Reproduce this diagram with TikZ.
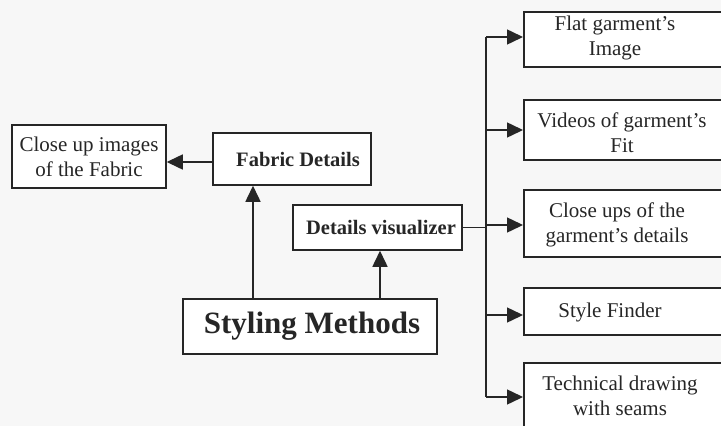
\documentclass[tikz,border=0pt]{standalone}
\usepackage{fontspec}
\setmainfont{Liberation Serif}
\usetikzlibrary{arrows.meta}
\tikzset{
  box/.style={draw=black!85, line width=1.5pt, fill=white, inner sep=0pt},
  lbl/.style={align=center, font=\fontsize{21}{25}\selectfont, text=black!85},
  blbl/.style={align=center, font=\bfseries\fontsize{20.5}{24}\selectfont, text=black!85},
  arr/.style={-{Triangle[length=16pt,width=15pt]}, line width=1.5pt, draw=black!85},
  ln/.style={line width=1.5pt, draw=black!85},
}
\begin{document}
\begin{tikzpicture}[x=1pt,y=-1pt]
\useasboundingbox (0,0) rectangle (721,426);
\fill[black!3] (0,0) rectangle (721,426);
\clip (0,0) rectangle (721,426);
% left part
\node[box, minimum width=154pt, minimum height=63pt] (close) at (89,156.5) {};
\node[lbl] (closet) at (89,156.5) {Close up images\\of the Fabric};
\node[box, minimum width=158pt, minimum height=52pt] (fabric) at (292,159) {};
\node[blbl] (fabrict) at (298,159) {Fabric Details};
\node[box, minimum width=169pt, minimum height=45pt] (details) at (377.5,227.5) {};
\node[blbl] (detailst) at (381,227.5) {Details visualizer};
\node[box, minimum width=254pt, minimum height=55pt] (styling) at (310,326.5) {};
\node[align=center, font=\bfseries\fontsize{31}{36}\selectfont, text=black!85] (stylingt) at (312,326.5) {Styling Methods};
% right boxes
\node[box, anchor=west, minimum width=230pt, minimum height=55pt] (b1) at (523,39.5) {};
\node[lbl] (t1) at (615,37.5) {Flat garment’s\\Image};
\node[box, anchor=west, minimum width=230pt, minimum height=60pt] (b2) at (523,130) {};
\node[lbl] (t2) at (622,133) {Videos of garment’s\\Fit};
\node[box, anchor=west, minimum width=230pt, minimum height=67pt] (b3) at (523,223.5) {};
\node[lbl] (t3) at (617,224.5) {Close ups of the\\garment’s details};
\node[box, anchor=west, minimum width=230pt, minimum height=47pt] (b4) at (523,311.5) {};
\node[lbl] (t4) at (610,312) {Style Finder};
\node[box, anchor=west, minimum width=230pt, minimum height=80pt] (b5) at (523,403) {};
\node[lbl] (t5) at (620,396) {Technical drawing\\with seams};
% connectors
\coordinate (xf) at (253,0);
\coordinate (xd) at (380,0);
\coordinate (bus) at (486,0);
\coordinate (yf) at (0,162);
\draw[arr] (fabric.west |- yf) -- (close.east |- yf);
\draw[arr] (styling.north -| xf) -- (fabric.south -| xf);
\draw[arr] (styling.north -| xd) -- (details.south -| xd);
\coordinate (btop) at (486,37);
\coordinate (bbot) at (486,397);
\draw[ln] (details.east) -- (details.east -| bus);
\draw[ln] (btop) -- (bbot);
\draw[arr] (btop) -- (b1.west |- btop);
\draw[arr] (486,130) coordinate (c2) -- (b2.west |- c2);
\draw[arr] (486,225) coordinate (c3) -- (b3.west |- c3);
\draw[arr] (486,315) coordinate (c4) -- (b4.west |- c4);
\draw[arr] (bbot) -- (b5.west |- bbot);
\end{tikzpicture}
\end{document}
